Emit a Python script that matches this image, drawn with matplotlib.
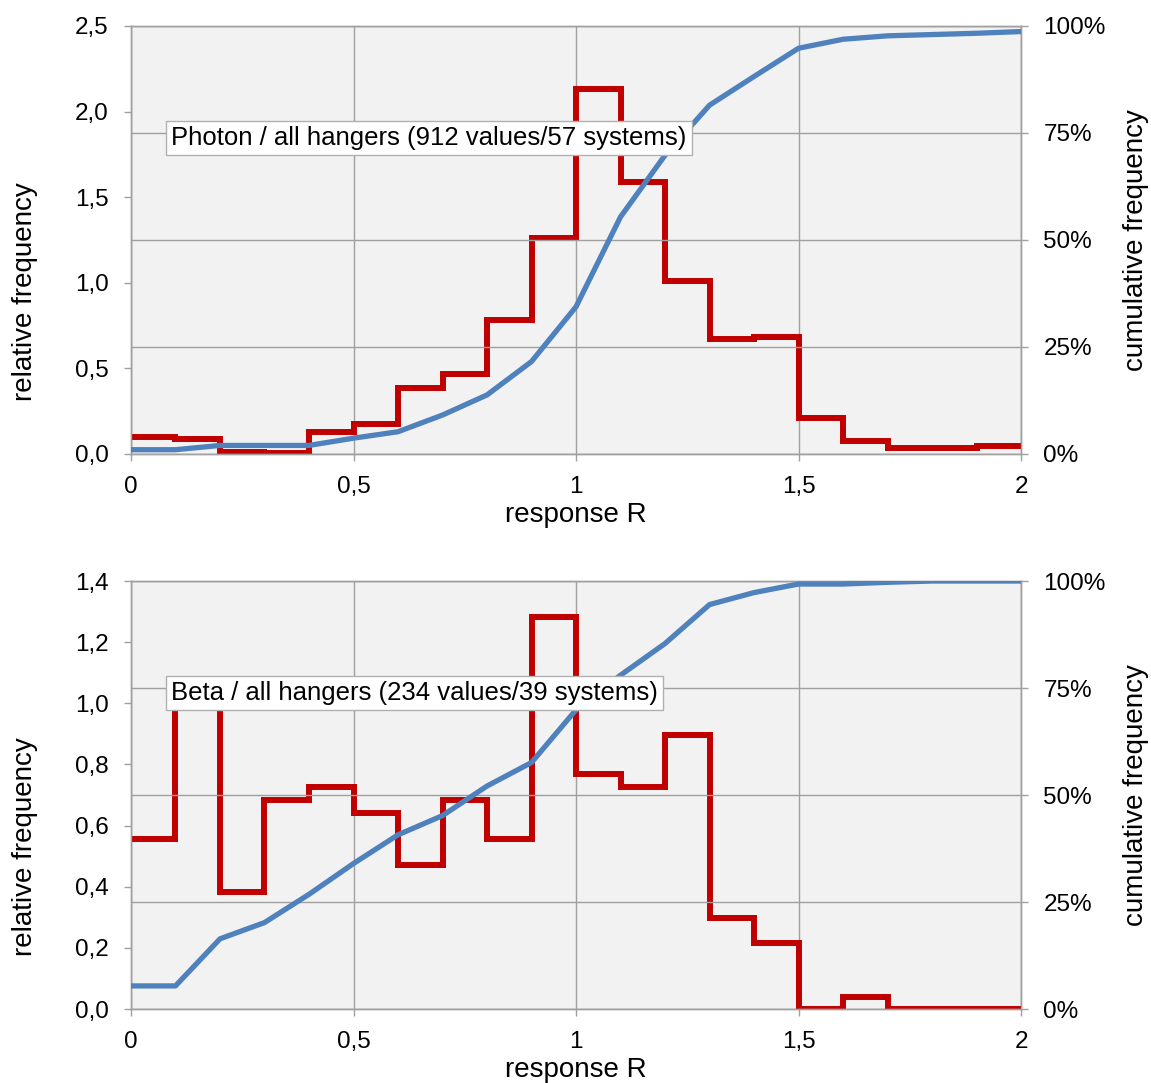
import numpy as np
import matplotlib.pyplot as plt
from matplotlib.ticker import FuncFormatter, MultipleLocator

plt.rcParams['font.family'] = ['Liberation Sans', 'DejaVu Sans']

# bin edges of response R (0 .. 2 in steps of 0.1)
edges = np.round(np.arange(0, 2.01, 0.1), 2)

# photon panel
photon_freq = [0.10, 0.088, 0.014, 0.004, 0.127, 0.175, 0.387, 0.47, 0.78, 1.26,
               2.13, 1.59, 1.01, 0.67, 0.685, 0.21, 0.078, 0.037, 0.037, 0.047]
photon_cum = [1.0, 1.0, 2.0, 2.0, 2.0, 3.7, 5.2, 9.1, 13.8, 21.6, 34.4,
              55.4, 69.8, 81.5, 88.2, 94.8, 96.9, 97.7, 98.0, 98.3, 98.7]
photon_label = 'Photon / all hangers (912 values/57 systems)'

# beta panel
beta_freq = [0.555, 1.04, 0.384, 0.684, 0.725, 0.64, 0.471, 0.684, 0.555, 1.281,
             0.769, 0.727, 0.896, 0.299, 0.215, 0.0, 0.04, 0.0, 0.0, 0.0]
beta_cum = [5.4, 5.4, 16.4, 20.2, 26.8, 34.0, 40.7, 45.2, 52.1, 57.6, 69.9,
            78.0, 85.4, 94.5, 97.3, 99.3, 99.3, 99.7, 100.0, 100.0, 100.0]
beta_label = 'Beta / all hangers (234 values/39 systems)'

RED = '#c00000'
BLUE = '#4f81bd'
GRID = '#a0a0a0'
BG = '#f2f2f2'


def comma(fmt):
    return FuncFormatter(lambda v, p: fmt.format(v).replace('.', ','))


def x_fmt(v, p):
    s = f'{v:.1f}'.rstrip('0').rstrip('.')
    return s.replace('.', ',')


def draw_panel(ax, freq, cum, ymax, ystep, label):
    ax.set_facecolor(BG)
    ax.stairs(freq, edges, color=RED, linewidth=4.3, baseline=None, zorder=3)
    ax.set_xlim(0, 2)
    ax.set_ylim(0, ymax)
    ax.yaxis.set_major_locator(MultipleLocator(ystep))
    ax.yaxis.set_major_formatter(comma('{:.1f}'))
    ax.xaxis.set_major_locator(MultipleLocator(0.5))
    ax.xaxis.set_major_formatter(FuncFormatter(x_fmt))
    ax.grid(axis='x', color=GRID, linewidth=1.0)
    ax.set_axisbelow(True)
    ax.set_xlabel('response R', fontsize=20, labelpad=3)
    ax.set_ylabel('relative frequency', fontsize=20)
    ax.yaxis.set_label_coords(-0.104, 0.38)
    ax.tick_params(labelsize=17.5, color=GRID, length=5, width=1, pad=11)

    ax2 = ax.twinx()
    ax2.plot(edges, cum, color=BLUE, linewidth=3.8, solid_capstyle='butt', zorder=4)
    ax2.set_ylim(0, 100)
    ax2.yaxis.set_major_locator(MultipleLocator(25))
    ax2.yaxis.set_major_formatter(FuncFormatter(lambda v, p: f'{v:.0f}%'))
    ax2.grid(axis='y', color=GRID, linewidth=1.0)
    ax2.set_ylabel('cumulative frequency', fontsize=20)
    ax2.yaxis.set_label_coords(1.114, 0.5)
    ax2.tick_params(labelsize=17.5, color=GRID, length=5, width=1, pad=11)
    ax2.text(0.09, 73.9, label, fontsize=18.5, ha='left', va='center',
             zorder=10,
             bbox=dict(boxstyle='square,pad=0.2', facecolor='white',
                       edgecolor='#b0b0b0', linewidth=1))

    for a in (ax, ax2):
        for s in a.spines.values():
            s.set_color(GRID)
            s.set_linewidth(1.0)


fig = plt.figure(figsize=(11.51, 10.83), dpi=100)
ax_top = fig.add_axes([0.1138, 0.5808, 0.7733, 0.3952])
ax_bot = fig.add_axes([0.1138, 0.0683, 0.7733, 0.3952])

draw_panel(ax_top, photon_freq, photon_cum, 2.5, 0.5, photon_label)
draw_panel(ax_bot, beta_freq, beta_cum, 1.4, 0.2, beta_label)

fig.savefig('out.png', dpi=100)
